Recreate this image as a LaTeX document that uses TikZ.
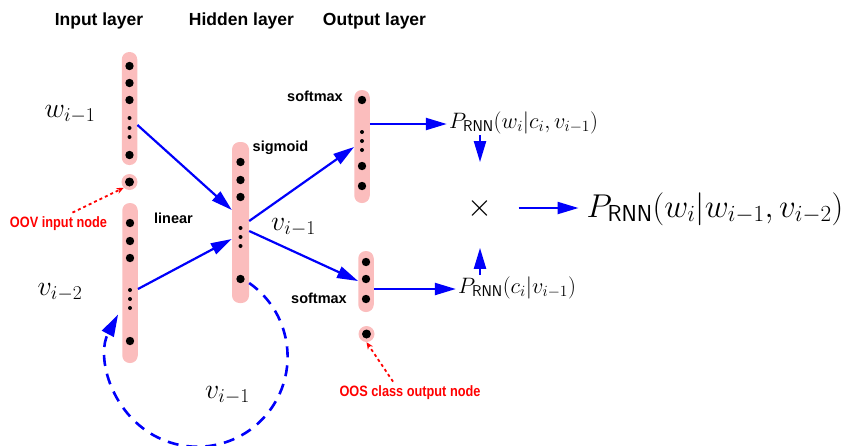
\documentclass[tikz,border=0pt]{standalone}
\usepackage{fix-cm}
\usepackage{fontspec}
\newfontfamily\hv{Liberation Sans}
\usetikzlibrary{arrows.meta,calc}
\definecolor{barpink}{RGB}{251,189,189}
\definecolor{netblue}{RGB}{0,0,250}
\definecolor{notered}{RGB}{255,0,0}
\newcommand\mathsz[1]{\fontsize{#1}{#1}\selectfont}
\begin{document}
\begin{tikzpicture}[x=1pt,y=-1pt,
  bar/.style={fill=barpink, draw=none, rounded corners=7.5pt, minimum width=15.5pt, inner sep=0pt},
  unitnode/.style={circle, fill=barpink, minimum size=16pt, inner sep=0pt},
  title/.style={anchor=base, font=\hv\bfseries\fontsize{17.5}{20}\selectfont},
  act/.style={anchor=base, font=\hv\bfseries\fontsize{14.5}{16}\selectfont},
  note/.style={anchor=base, text=notered, font=\hv\bfseries\fontsize{15}{17}\selectfont},
  var/.style={anchor=base, font=\mathsz{28}},
  prob/.style={anchor=base, inner sep=2pt, font=\mathsz{22.3}},
  flow/.style={draw=netblue, line width=2.2pt, -{Triangle[length=21pt,width=12pt]}},
  recur/.style={draw=netblue, line width=2.6pt, dash pattern=on 11pt off 8pt, -{Triangle[length=22pt,width=13pt]}},
  pointer/.style={draw=notered, line width=1.8pt, dash pattern=on 3pt off 3pt, -{Stealth[open,length=7pt,width=6pt]}}]
\useasboundingbox (0,0) rectangle (845,445);

% layer titles
\node[title] (tin)  at (99,25)  {Input layer};
\node[title] (thid) at (241.5,25) {Hidden layer};
\node[title] (tout) at (374.5,25) {Output layer};

% neuron columns
\node[bar, minimum height=113pt] (in1)  at (129.5,108.5) {};
\node[unitnode] (oov) at (129.5,182) {};
\node[bar, minimum height=160pt] (in2)  at (130,283) {};
\node[bar, minimum height=161pt, minimum width=17pt] (hid) at (240.5,222.5) {};
\node[bar, minimum height=113pt] (out1) at (362,146.5) {};
\node[bar, minimum height=61pt]  (out2) at (366,281.5) {};
\node[unitnode] (oos) at (366.5,334) {};

% units inside the columns
\foreach \y in {66,83,100,155} \fill (in1.center |- 0,\y) circle[radius=4.2];
\foreach \y in {118,128,137} \fill (in1.center |- 0,\y) circle[radius=2];
\fill (oov) circle[radius=4.5];
\foreach \y in {223,241,258,341} \fill (in2.center |- 0,\y) circle[radius=4.2];
\foreach \y in {290,299,308} \fill (in2.center |- 0,\y) circle[radius=2];
\foreach \y in {162,180,197,279} \fill (hid.center |- 0,\y) circle[radius=4.2];
\foreach \y in {228,237,246} \fill (hid.center |- 0,\y) circle[radius=2];
\foreach \y in {100,166,186} \fill (out1.center |- 0,\y) circle[radius=4.2];
\foreach \y in {132,141,150} \fill (out1.center |- 0,\y) circle[radius=2];
\foreach \y in {262,279,299} \fill (out2.center |- 0,\y) circle[radius=4.2];
\fill (oos) circle[radius=4.5];

% activation labels
\node[act] (lsig)  at (280.5,151) {sigmoid};
\node[act] (lsm1)  at (315,101)   {softmax};
\node[act] (llin)  at (173.5,223) {linear};
\node[act] (lsm2)  at (319,303)   {softmax};

% vector labels
\node[var] (vw)  at (70,117)   {$w_{i-1}$};
\node[var] (vv2) at (60,295)   {$v_{i-2}$};
\node[var] (vh)  at (293.5,230) {$v_{i-1}$};
\node[var] (vr)  at (227.5,398) {$v_{i-1}$};

% probabilities
\node[prob] (pw) at (523.5,128) {$P_{\mathsf{RNN}}(w_i|c_i,v_{i-1})$};
\node[prob] (pc) at (517,293)   {$P_{\mathsf{RNN}}(c_i|v_{i-1})$};
\node[font=\mathsz{32}, inner sep=0pt] (times) at (480,208) {$\times$};
\node[anchor=base, font=\mathsz{33}, inner sep=2pt] (pall) at (715,217) {$P_{\mathsf{RNN}}(w_i|w_{i-1},v_{i-2})$};

% forward connections
\draw[flow] (in1.east |- 0,125) -- (hid.west |- 0,210);
\draw[flow] (in2.east |- 0,289) -- (hid.west |- 0,239);
\draw[flow] (hid.east |- 0,221) -- (out1.west |- 0,147);
\draw[flow] (hid.east |- 0,231) -- (out2.west |- 0,281);
\draw[flow] (out1.east |- 0,124) -- (pw.west |- 0,124);
\draw[flow] (out2.east |- 0,289) -- (pc.west |- 0,289);
\draw[flow, shorten >=35pt] (times |- 0,135) -- (times);
\draw[flow, shorten >=29pt] (times |- 0,275) -- (times);
\draw[flow, shorten <=26pt, shorten >=6pt] (times) -- (pall.west |- times);

% recurrent connection back to the input layer
\draw[recur] (hid.east |- 0,283) arc[start angle=-55, end angle=208, radius=90];

% special nodes
\node[note] (noov) at (58.5,227) {\scalebox{0.85}[1]{OOV input node}};
\node[note] (noos) at (410,396)  {\scalebox{0.85}[1]{OOS class output node}};
\draw[pointer] ([xshift=14pt]noov.north) -- (oov.south west);
\draw[pointer] ([xshift=-17pt]noos.north) -- (oos.south);
\end{tikzpicture}
\end{document}
